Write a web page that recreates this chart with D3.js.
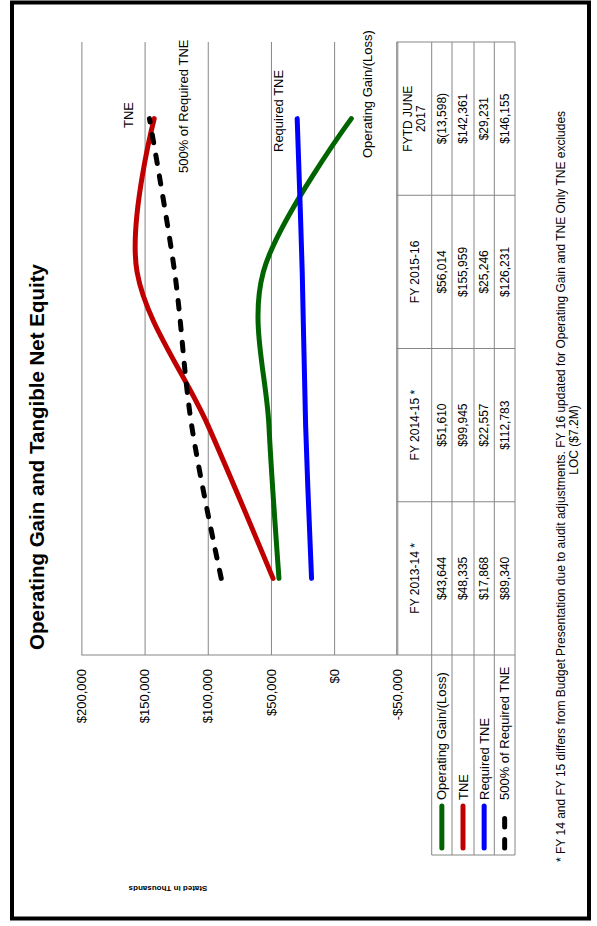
<!DOCTYPE html>
<html>
<head>
<meta charset="utf-8">
<script src="https://cdn.jsdelivr.net/npm/d3@7"></script>
<style>
  html, body { margin: 0; padding: 0; background: #fff; }
  svg { display: block; }
  text { font-family: "Liberation Sans", Arial, sans-serif; fill: #000; }
  .narrow { font-family: "Liberation Sans Narrow", "Arial Narrow", "Liberation Sans", Arial, sans-serif; }
</style>
</head>
<body>
<script>
// Fiscal periods shown along the category axis (multi-line where the header wraps)
const categories = [["FY 2013-14 *"], ["FY 2014-15 *"], ["FY 2015-16"], ["FYTD JUNE", "2017"]];

// Series values, in thousands of dollars
const operatingGain = [43644, 51610, 56014, -13598];
const tne = [48335, 99945, 155959, 142361];
const requiredTne = [17868, 22557, 25246, 29231];
const tne500 = [89340, 112783, 126231, 146155];

// Value axis ticks
const valueTicks = [-50000, 0, 50000, 100000, 150000, 200000];

const seriesNames = ["Operating Gain/(Loss)", "TNE", "Required TNE", "500% of Required TNE"];
const seriesValues = [operatingGain, tne, requiredTne, tne500];
const seriesColors = ["#006400", "#c00000", "#0000ff", "#000000"];
const seriesDashed = [false, false, false, true];

const W = 597, H = 926;
const money = v => (v < 0 ? "$(" + d3.format(",")(-v) + ")" : "$" + d3.format(",")(v));
const tickFmt = v => (v < 0 ? "-$" + d3.format(",")(-v) : "$" + d3.format(",")(v));

const svg = d3.select("body").append("svg").attr("width", W).attr("height", H);
svg.append("rect").attr("width", W).attr("height", H).attr("fill", "#fff");

// Page frame
svg.append("rect")
  .attr("x", 12).attr("y", 2.5).attr("width", 577).attr("height", 916)
  .attr("fill", "none").attr("stroke", "#000").attr("stroke-width", 4);

// The whole chart is laid out landscape and turned a quarter turn counter-clockwise.
const g = svg.append("g").attr("transform", `translate(0,${H}) rotate(-90)`);

const plotL = 271, plotR = 884;
const x = d3.scaleBand().domain(d3.range(categories.length)).range([plotL, plotR]);
const y = d3.scaleLinear().domain([-50000, 200000]).range([397.3, 81.4]);
const bw = x.bandwidth();
const cx = i => x(i) + bw / 2;

// Title
g.append("text")
  .attr("x", 469).attr("y", 44)
  .attr("text-anchor", "middle")
  .style("font-size", "20.5px").style("font-weight", "bold")
  .text("Operating Gain and Tangible Net Equity");

// Value axis with gridlines
const axis = g.append("g")
  .attr("transform", `translate(${plotL},0)`)
  .call(d3.axisLeft(y).tickValues(valueTicks).tickSize(-(plotR - plotL)).tickPadding(14).tickFormat(tickFmt));
axis.select(".domain").remove();
axis.selectAll(".tick line").attr("stroke", "#868686").attr("stroke-width", 1);
axis.selectAll(".tick text")
  .style("font-size", "13px")
  .style("font-family", "\"Liberation Sans\", Arial, sans-serif");

// Axis title
g.append("text")
  .attr("transform", "translate(40,168) rotate(-90)")
  .attr("text-anchor", "middle")
  .style("font-size", "8px").style("font-weight", "bold")
  .text("Stated in Thousands");

// Data table grid
const rowEdges = [396.7, 431.7, 452, 474, 494.3, 515];
const legendL = 71;
const gridColor = "#868686";
const tbl = g.append("g").attr("stroke", gridColor).attr("stroke-width", 1);
// axis line continuing through the table
tbl.append("line").attr("x1", plotL).attr("x2", plotL).attr("y1", y(200000)).attr("y2", rowEdges[5]);
rowEdges.forEach((v, k) => {
  tbl.append("line")
    .attr("x1", k === 0 ? plotL : legendL).attr("x2", plotR)
    .attr("y1", v).attr("y2", v);
});
d3.range(1, categories.length + 1).forEach(k => {
  const u = plotL + k * bw;
  tbl.append("line").attr("x1", u).attr("x2", u).attr("y1", rowEdges[0]).attr("y2", rowEdges[5]);
});
tbl.append("line").attr("x1", legendL).attr("x2", legendL).attr("y1", rowEdges[1]).attr("y2", rowEdges[5]);

// Column headers
categories.forEach((lines, i) => {
  const mid = (rowEdges[0] + rowEdges[1]) / 2;
  const t = g.append("text")
    .attr("text-anchor", "middle")
    .style("font-size", "12px");
  lines.forEach((ln, j) => {
    t.append("tspan")
      .attr("x", cx(i))
      .attr("y", mid + 4.3 + (j - (lines.length - 1) / 2) * 13)
      .text(ln);
  });
});

// Table values
seriesValues.forEach((vals, r) => {
  const mid = (rowEdges[r + 1] + rowEdges[r + 2]) / 2;
  vals.forEach((v, i) => {
    g.append("text")
      .attr("class", "narrow")
      .attr("x", cx(i)).attr("y", mid + 4.3)
      .attr("text-anchor", "middle")
      .style("font-size", "12px")
      .text(money(v));
  });
});

// Legend keys inside the table
seriesNames.forEach((name, r) => {
  const mid = (rowEdges[r + 1] + rowEdges[r + 2]) / 2;
  g.append("line")
    .attr("x1", 78).attr("x2", 120).attr("y1", mid).attr("y2", mid)
    .attr("stroke", seriesColors[r]).attr("stroke-width", 5)
    .attr("stroke-linecap", "round")
    .attr("stroke-dasharray", seriesDashed[r] ? "8.5,12.5" : null);
  g.append("text")
    .attr("x", 126).attr("y", mid + 4.6)
    .style("font-size", "13px")
    .text(name);
});

// Smoothed series lines
const line = d3.line()
  .x((d, i) => cx(i))
  .y(d => y(d))
  .curve(d3.curveCatmullRom.alpha(0));

seriesValues.forEach((vals, r) => {
  g.append("path")
    .datum(vals)
    .attr("d", line)
    .attr("fill", "none")
    .attr("stroke", seriesColors[r])
    .attr("stroke-width", 5)
    .attr("stroke-linecap", "round")
    .attr("stroke-linejoin", "round")
    .attr("stroke-dasharray", seriesDashed[r] ? "8.5,12.5" : null);
});

// Series labels near the line ends
const lineLabels = [
  { text: "TNE", u: 798, v: 133 },
  { text: "500% of Required TNE", u: 753, v: 188 },
  { text: "Required TNE", u: 774, v: 283 },
  { text: "Operating Gain/(Loss)", u: 768, v: 372 }
];
lineLabels.forEach(l => {
  g.append("text").attr("x", l.u).attr("y", l.v)
    .style("font-size", "13px")
    .text(l.text);
});

// Footnote
g.append("text")
  .attr("class", "narrow")
  .attr("x", 64).attr("y", 565)
  .style("font-size", "12px")
  .text("* FY 14 and FY 15 differs from Budget Presentation due to audit adjustments.  FY 16 updated for Operating Gain and TNE Only TNE excludes");
g.append("text")
  .attr("class", "narrow")
  .attr("x", 486).attr("y", 578)
  .attr("text-anchor", "middle")
  .style("font-size", "12px")
  .text("LOC ($7.2M)");
</script>
</body>
</html>
